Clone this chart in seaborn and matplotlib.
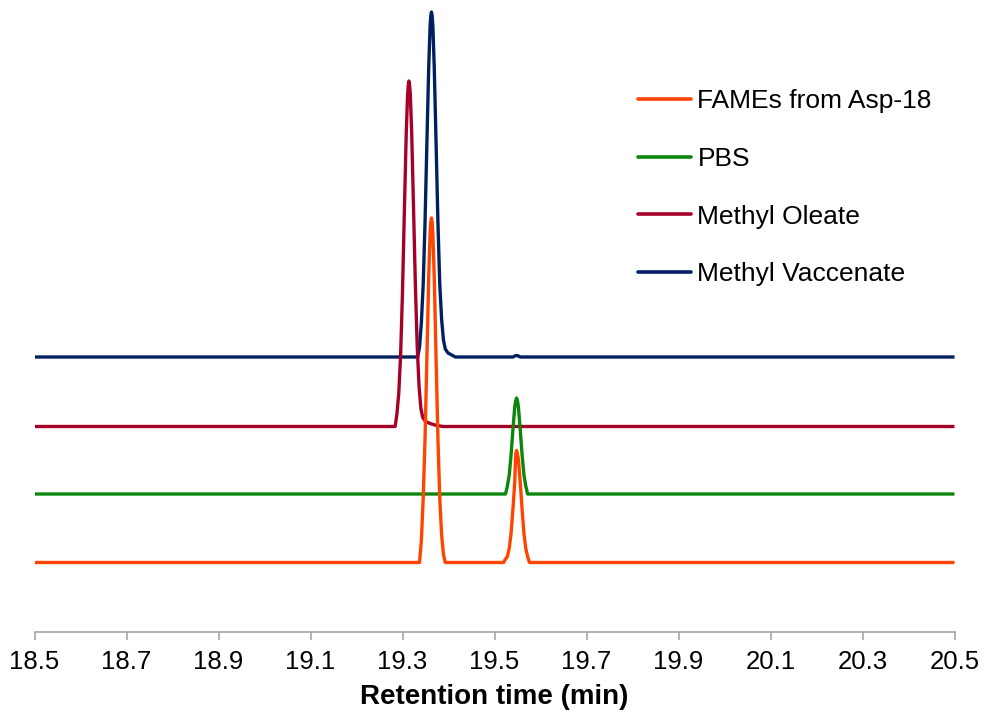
import matplotlib
matplotlib.use("Agg")
import matplotlib.pyplot as plt
import numpy as np
import pandas as pd
import seaborn as sns

# ---------------- data ----------------
names = ["FAMEs from Asp-18", "PBS", "Methyl Oleate", "Methyl Vaccenate"]
colors = ["#FF4400", "#0A870A", "#A50026", "#002060"]
offsets = [69.5, 138.0, 205.5, 275.0]   # vertical stacking of the traces

fames_t = [18.5, 19.337, 19.341, 19.345, 19.349, 19.353, 19.357, 19.360, 19.3615, 19.363,
           19.3645, 19.366, 19.369, 19.373, 19.377, 19.381, 19.385, 19.389, 19.393,
           19.520, 19.522, 19.528, 19.532, 19.536, 19.540, 19.544, 19.546, 19.548,
           19.550, 19.552, 19.556, 19.560, 19.564, 19.568, 19.572, 19.576, 20.5]
fames_y = [0, 0, 22, 64, 124, 204, 286, 329, 340, 344.5,
           340, 329, 286, 204, 124, 64, 28, 8, 0,
           0, 2, 6, 14, 29, 53, 80, 108, 112,
           108, 103, 80, 53, 29, 14, 6, 0, 0]

pbs_t = [18.5, 19.524, 19.528, 19.532, 19.536, 19.540, 19.544, 19.546, 19.548,
         19.550, 19.552, 19.556, 19.560, 19.564, 19.568, 19.572, 20.5]
pbs_y = [0, 0, 8, 19, 39, 64, 87, 93, 96,
         93, 87, 64, 39, 19, 8, 0, 0]

oleate_t = [18.5, 19.284, 19.288, 19.292, 19.296, 19.300, 19.304, 19.308, 19.311, 19.3125,
            19.314, 19.3155, 19.317, 19.320, 19.324, 19.328, 19.332, 19.336, 19.340,
            19.344, 19.350, 19.360, 19.374, 19.389, 20.5]
oleate_y = [0, 0, 13, 34, 73, 135, 214, 291, 331, 341,
            345.5, 341, 332, 293, 218, 141, 80, 40, 18,
            9, 5, 3, 1, 0, 0]

vacc_t = [18.5, 19.333, 19.337, 19.341, 19.345, 19.349, 19.353, 19.357, 19.360, 19.3615,
          19.363, 19.3645, 19.366, 19.369, 19.373, 19.377, 19.381, 19.385, 19.389,
          19.393, 19.399, 19.407, 19.415, 19.540, 19.545, 19.548, 19.551,
          19.556, 20.5]
vacc_y = [0, 0, 10, 34, 73, 135, 214, 290, 331, 341,
          345, 341, 331, 290, 214, 135, 73, 38, 17,
          8, 4, 2, 0, 0, 1.2, 1.5, 1.2,
          0, 0]

xticks = [18.5, 18.7, 18.9, 19.1, 19.3, 19.5, 19.7, 19.9, 20.1, 20.3, 20.5]

# ---------------- build long table ----------------
series = [(fames_t, fames_y), (pbs_t, pbs_y), (oleate_t, oleate_y), (vacc_t, vacc_y)]
frames = []
for name, off, (t, y) in zip(names, offsets, series):
    frames.append(pd.DataFrame({"time": t, "signal": np.asarray(y, float) + off, "trace": name}))
df = pd.concat(frames, ignore_index=True)

# ---------------- plot ----------------
sns.set_theme(style="white")
plt.rcParams["font.family"] = ["Liberation Sans", "DejaVu Sans"]
plt.rcParams["text.color"] = "black"
plt.rcParams["axes.labelcolor"] = "black"
plt.rcParams["xtick.color"] = "black"

fig = plt.figure(figsize=(9.84, 7.18), dpi=100)
ax = fig.add_axes([34.5 / 984, 86 / 718, 920 / 984, 627 / 718])

sns.lineplot(data=df, x="time", y="signal", hue="trace", hue_order=names,
             palette=colors, sort=False, estimator=None, linewidth=2.4, ax=ax)

# later traces underneath, FAMEs on top
for i, ln in enumerate(ax.lines[:len(names)]):
    ln.set_zorder(10 - i)
    ln.set_solid_capstyle("butt")
    ln.set_solid_joinstyle("round")

ax.set_xlim(18.5, 20.5)
ax.set_ylim(0, 627)
ax.set_xticks(xticks)
ax.set_xticklabels([f"{v:.1f}" for v in xticks])
ax.set_yticks([])
ax.set_ylabel("")
ax.set_xlabel("Retention time (min)", fontsize=20, fontweight="bold", labelpad=7,
              color="black")

for s in ["left", "top", "right"]:
    ax.spines[s].set_visible(False)
ax.spines["bottom"].set_color("#A6A6A6")
ax.spines["bottom"].set_linewidth(1.2)
ax.tick_params(axis="x", direction="out", length=6, width=1.2, color="#A6A6A6",
               labelsize=18.5, labelcolor="black", pad=7, bottom=True)

handles, labels = ax.get_legend_handles_labels()
leg = ax.legend(handles, labels, loc="upper left",
                bbox_to_anchor=(638 / 984, 1 - 89 / 718), bbox_transform=fig.transFigure,
                frameon=False, fontsize=19, handlelength=2.0, handletextpad=0.25,
                labelspacing=1.28, borderpad=0, borderaxespad=0)
for h in leg.get_lines():
    h.set_linewidth(2.6)
for t in leg.get_texts():
    t.set_color("black")

fig.savefig("out.png", dpi=100)
